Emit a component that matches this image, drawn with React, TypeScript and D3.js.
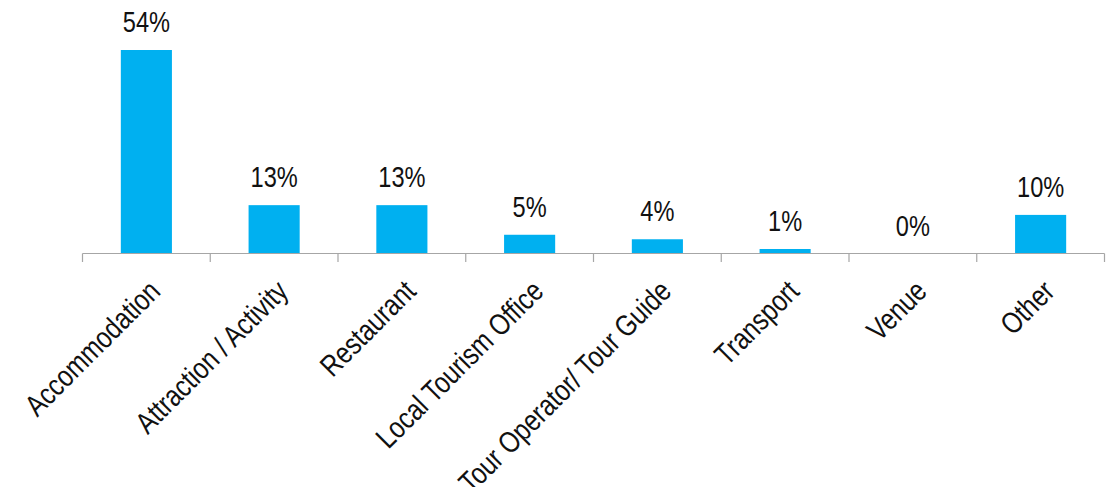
import React from "react";
import * as d3 from "d3";

const categories = [
  "Accommodation",
  "Attraction / Activity",
  "Restaurant",
  "Local Tourism Office",
  "Tour Operator/ Tour Guide",
  "Transport",
  "Venue",
  "Other",
];
const values = [54.3, 12.9, 12.9, 5.0, 3.8, 1.2, 0, 10.3];
const labels = ["54%", "13%", "13%", "5%", "4%", "1%", "0%", "10%"];

const W = 1114;
const H = 487;
const baseY = 253.5;
const FONT = "'Liberation Sans', Arial, sans-serif";
const NARROW = 0.82;

export default function App() {
  const x = d3
    .scaleBand<string>()
    .domain(categories)
    .range([82.5, 1104.5])
    .paddingInner(0.6)
    .paddingOuter(0.3);
  const y = d3.scaleLinear().domain([0, 54.3]).range([baseY, 50]);
  const step = x.step();
  const x0 = 82.5;
  const tickXs = d3.range(categories.length + 1).map((i) => x0 + i * step);

  return (
    <svg
      width={W}
      height={H}
      style={{ position: "absolute", left: 0, top: 0, background: "#fff" }}
    >
      {categories.map((c, i) => (
        <rect
          key={c}
          x={x(c)!}
          y={y(values[i])}
          width={x.bandwidth()}
          height={baseY - y(values[i])}
          fill="#00B0F0"
        />
      ))}
      <line x1={x0} x2={tickXs[tickXs.length - 1]} y1={baseY} y2={baseY} stroke="#a6a6a6" strokeWidth={1.2} />
      {tickXs.map((tx, i) => (
        <line key={i} x1={tx} x2={tx} y1={baseY} y2={baseY + 8.5} stroke="#a6a6a6" strokeWidth={1.2} />
      ))}
      {categories.map((c, i) => {
        const cx = x(c)! + x.bandwidth() / 2;
        const ty = y(values[i]) - 18;
        return (
          <text
            key={"v" + c}
            transform={`translate(${cx},${ty}) scale(${NARROW},1)`}
            textAnchor="middle"
            fontFamily={FONT}
            fontSize={28.8}
            fill="#111"
          >
            {labels[i]}
          </text>
        );
      })}
      {categories.map((c) => {
        const cx = x(c)! + x.bandwidth() / 2;
        return (
          <text
            key={"c" + c}
            transform={`translate(${cx},${baseY + 17}) rotate(-45) scale(${NARROW},1)`}
            textAnchor="end"
            dx={-6}
            dy="0.9em"
            fontFamily={FONT}
            fontSize={30}
            fill="#111"
          >
            {c}
          </text>
        );
      })}
    </svg>
  );
}
